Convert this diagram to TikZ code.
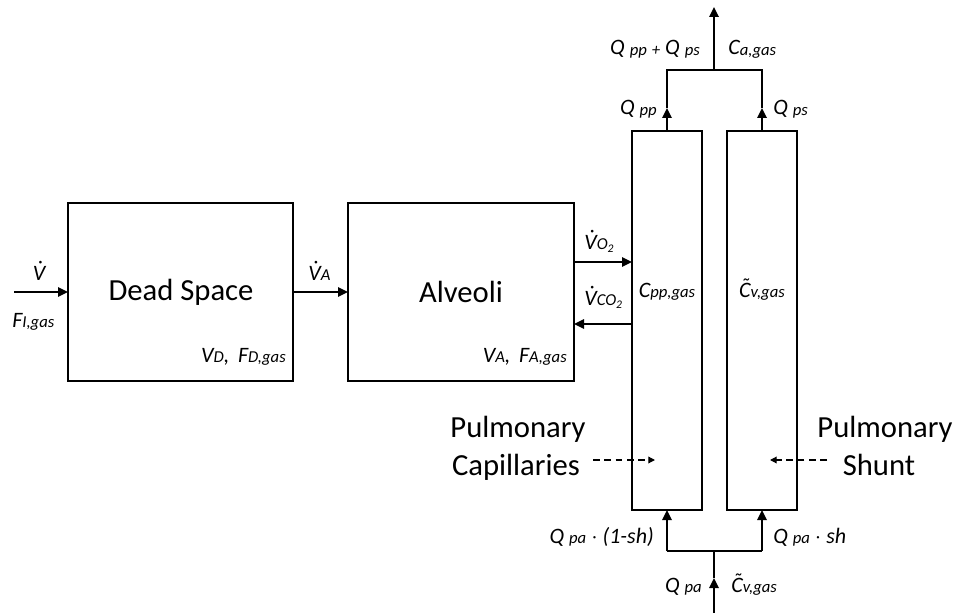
\documentclass[tikz,border=0pt]{standalone}
\usepackage{fontspec}
\setmainfont{Carlito}
\usetikzlibrary{arrows.meta}
\newcommand\bigsz{\fontsize{23}{27}\selectfont}
\newcommand\lbl{\fontsize{16.5}{19}\selectfont\itshape}
\newcommand\sbs[1]{{\fontsize{12.5}{14}\selectfont\raisebox{-0.6pt}{#1}}}
\newcommand\Vdot{\accent"02D9 V}
\newcommand\Ctil{\accent"02DC C}
\tikzset{
  blockbox/.style={draw, line width=1.6pt, inner sep=0pt, outer sep=0pt},
  flow/.style={line width=1.6pt},
  arr/.style={line width=1.6pt, -{Triangle[length=7.5pt,width=7pt]}},
  darr/.style={line width=0.9pt, dash pattern=on 5pt off 3.5pt, -{Triangle[length=5pt,width=5pt]}},
  lab/.style={inner sep=0pt, font=\lbl},
  big/.style={inner sep=0pt, font=\bigsz},
}
\begin{document}
\begin{tikzpicture}[x=0.75pt,y=-0.75pt]
\useasboundingbox (0,0) rectangle (959,613);
% blocks
\node[blockbox, minimum width=168.75pt, minimum height=133.5pt] (ds) at (180.5,292) {};
\node[blockbox, minimum width=169.5pt, minimum height=133.5pt] (alv) at (461,292) {};
\node[blockbox, minimum width=52.5pt, minimum height=284.25pt] (cap) at (667,320.5) {};
\node[blockbox, minimum width=52.5pt, minimum height=284.25pt] (sh) at (762,320.5) {};
% block texts
\node[big] (dst) at (181,292) {Dead Space};
\node[big] (alvt) at (461,292) {Alveoli};
\node[lab, anchor=base east] (vd) at (286,362) {V\sbs{D},\, F\sbs{D,gas}};
\node[lab, anchor=base east] (va) at (567,362) {V\sbs{A},\, F\sbs{A,gas}};
\node[lab, anchor=base] (cpp) at (667,297) {C\sbs{pp,gas}};
\node[lab, anchor=base] (cv) at (762,297) {\Ctil\sbs{v,gas}};
% inlet
\coordinate (in) at (14,292);
\draw[arr] (in) -- (ds.west);
\node[lab, anchor=base] (vdot) at (39,280) {\Vdot};
\node[lab, anchor=base west] (fi) at (12,327) {F\sbs{I,gas}};
% dead space to alveoli
\draw[arr] (ds.east) -- (alv.west);
\node[lab, anchor=base west] (vA) at (308,280) {\Vdot\sbs{A}};
% gas exchange
\draw[arr] (alv.east |- {(0,262)}) -- (cap.west |- {(0,262)});
\draw[arr] (cap.west |- {(0,324)}) -- (alv.east |- {(0,324)});
\node[lab, anchor=base west] (vo2) at (584,249) {\Vdot\sbs{O\textsubscript{2}}};
\node[lab, anchor=base west] (vco2) at (584,305) {\Vdot\sbs{CO\textsubscript{2}}};
% top merge
\coordinate (tl) at (667,70);
\coordinate (tr) at (762,70);
\coordinate (tm) at (714,70);
\coordinate (tout) at (714,7);
\coordinate (ta) at (667,108);
\coordinate (tb) at (762,108);
\draw[arr] (cap.north) -- (ta);
\draw[arr] (sh.north) -- (tb);
\draw[flow] (ta) -- (tl) -- (tr) -- (tb);
\draw[arr] (tm) -- (tout);
\node[lab, anchor=base east] (qsum) at (700,55) {Q \sbs{pp} \sbs{+} Q \sbs{ps}};
\node[lab, anchor=base west] (ca) at (728,55) {C\sbs{a,gas}};
\node[lab, anchor=base east] (qpp) at (657,115) {Q \sbs{pp}};
\node[lab, anchor=base west] (qps) at (773,115) {Q \sbs{ps}};
% bottom split
\coordinate (bin) at (714,613);
\coordinate (bm) at (714,551);
\coordinate (ba) at (714,578);
\coordinate (bl) at (667,551);
\coordinate (br) at (762,551);
\draw[arr] (bin) -- (ba);
\draw[flow] (ba) -- (bm);
\draw[flow] (bl) -- (br);
\draw[arr] (bl) -- (cap.south);
\draw[arr] (br) -- (sh.south);
\node[lab, anchor=base east] (qpa1) at (654,543) {Q \sbs{pa} $\cdot$ (1-sh)};
\node[lab, anchor=base west] (qpa2) at (773,543) {Q \sbs{pa} $\cdot$ sh};
\node[lab, anchor=base east] (qpa) at (702,592) {Q \sbs{pa}};
\node[lab, anchor=base west] (cvin) at (731,592) {\Ctil\sbs{v,gas}};
% pulmonary labels
\node[big, anchor=base] (pc1) at (518,437) {Pulmonary};
\node[big, anchor=base] (pc2) at (516,475) {Capillaries};
\node[big, anchor=base] (ps1) at (885,437) {Pulmonary};
\node[big, anchor=base] (ps2) at (879,475) {Shunt};
\coordinate (pcs) at (593,460);
\coordinate (pce) at (655,460);
\coordinate (pss) at (827,460);
\coordinate (pse) at (770,460);
\draw[darr] (pcs) -- (pce);
\draw[darr] (pss) -- (pse);
\end{tikzpicture}
\end{document}
